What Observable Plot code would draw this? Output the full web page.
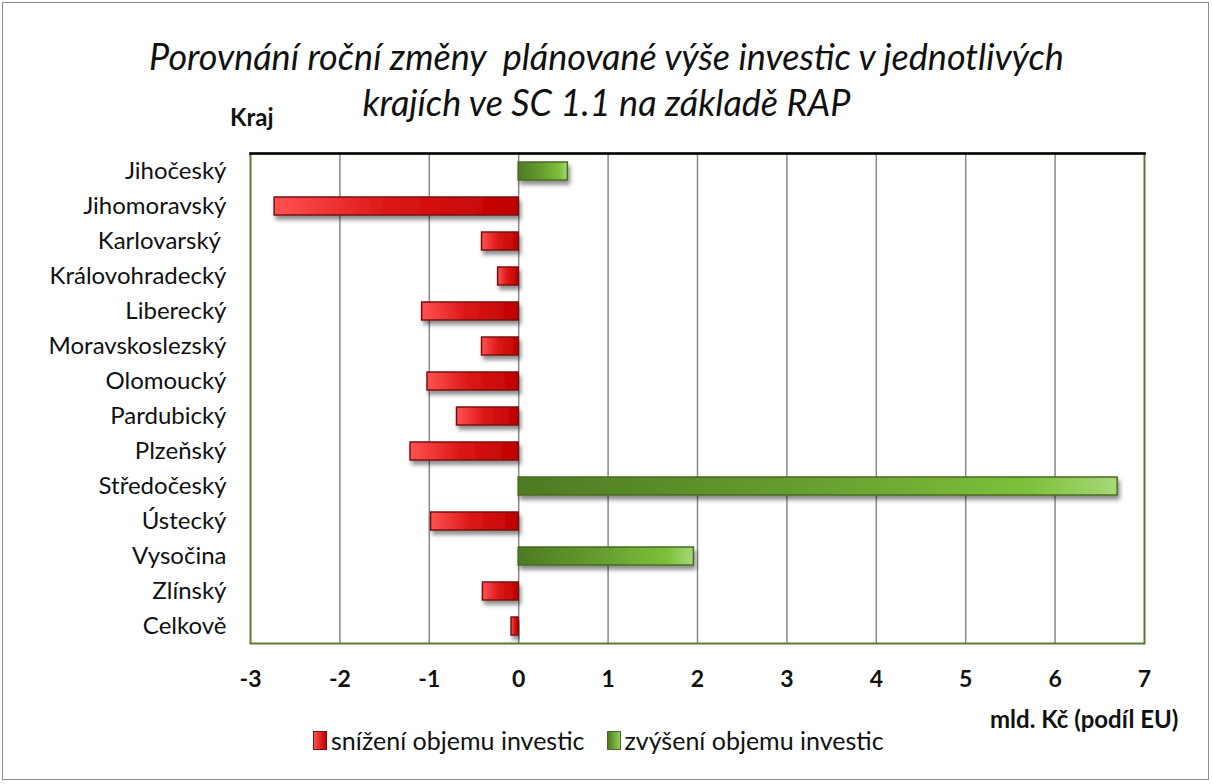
<!DOCTYPE html>
<html>
<head>
<meta charset="utf-8">
<script src="https://cdn.jsdelivr.net/npm/d3@7"></script>
<script src="https://cdn.jsdelivr.net/npm/@observablehq/plot@0.6"></script>
<style>
  html, body { margin: 0; padding: 0; background: #fff; }
  #wrap { position: relative; width: 1213px; height: 784px; overflow: hidden; font-family: Lato, "Open Sans", sans-serif; }
  #border { position: absolute; left: 2px; top: 2px; width: 1207px; height: 778px; border: 1px solid #8c8c8c; box-sizing: border-box; }
  .title { position: absolute; left: 0; width: 1213px; text-align: center; font-style: italic; font-size: 36px; line-height: 43px; color: #111; }
  .lab { position: absolute; font-weight: bold; font-size: 24px; line-height: 29px; color: #111; }
  #legend { position: absolute; top: 725px; left: 313px; font-size: 25px; line-height: 30px; color: #111; display: flex; align-items: center; }
  .sw { display: inline-block; width: 14px; height: 19px; box-sizing: border-box; margin-right: 4px; }
  #chart { position: absolute; left: 0; top: 0; }
  svg g[aria-label="bar"] rect { filter: url(#shadow); }
</style>
</head>
<body>
<div id="wrap">
  <div id="border"></div>
  <div class="title" style="top:35px">Porovnání roční změny&nbsp; plánované výše investic v jednotlivých</div>
  <div class="title" style="top:81px">krajích ve SC 1.1 na základě RAP</div>
  <div class="lab" style="left:230px; top:102px;">Kraj</div>
  <div class="lab" style="left:990px; top:704px;">mld. Kč (podíl EU)</div>
  <div id="legend">
    <span class="sw" style="background:linear-gradient(90deg,#ff5050,#c00000);border:1.5px solid #7a1010"></span><span>snížení objemu investic</span>
    <span class="sw" style="margin-left:22px;background:linear-gradient(90deg,#4e7a23,#8fcf50);border:1.5px solid #4a6a20"></span><span>zvýšení objemu investic</span>
  </div>
  <div id="chart"></div>
</div>
<script>
const regions = ["Jihočeský", "Jihomoravský", "Karlovarský ", "Královohradecký", "Liberecký", "Moravskoslezský", "Olomoucký", "Pardubický", "Plzeňský", "Středočeský", "Ústecký", "Vysočina", "Zlínský", "Celkově"];
const changes = [0.55, -2.73, -0.41, -0.23, -1.08, -0.41, -1.02, -0.69, -1.21, 6.70, -0.98, 1.96, -0.40, -0.08];
const xTicks = [-3, -2, -1, 0, 1, 2, 3, 4, 5, 6, 7];

const data = regions.map((r, i) => ({region: r, value: changes[i]}));
const neg = data.filter(d => d.value < 0);
const pos = data.filter(d => d.value >= 0);

const chart = Plot.plot({
  width: 1213,
  height: 784,
  marginLeft: 250,
  marginRight: 69,
  marginTop: 153,
  marginBottom: 141,
  style: {fontFamily: "Lato, 'Open Sans', sans-serif", background: "transparent", overflow: "visible", color: "#111"},
  x: {domain: [-3, 7], ticks: xTicks, tickSize: 0, tickFormat: d => d, label: null},
  y: {domain: regions, paddingInner: 0.486, paddingOuter: 0.243, align: 0.5, tickSize: 0, label: null},
  marks: [
    Plot.ruleX(xTicks.filter(t => t > -3 && t < 7), {stroke: "#8a8a8a", strokeWidth: 1.5}),
    Plot.frame({stroke: "#5c7a32", strokeWidth: 2}),
    Plot.frame({anchor: "top", stroke: "#000", strokeWidth: 2.5}),
    Plot.barX(neg, {y: "region", x1: 0, x2: "value", fill: "url(#gradRed)", stroke: "#7a1010", strokeWidth: 1.5}),
    Plot.barX(pos, {y: "region", x1: 0, x2: "value", fill: "url(#gradGreen)", stroke: "#4a6a20", strokeWidth: 1.5}),
    Plot.axisX({ticks: xTicks, tickSize: 0, tickPadding: 27, fontSize: 23, fontWeight: "bold", tickFormat: d => d, label: null}),
    Plot.axisY({tickSize: 0, tickPadding: 24, fontSize: 24, label: null})
  ]
});

const svg = d3.select(chart);
const defs = svg.insert("defs", ":first-child");
const gr = defs.append("linearGradient").attr("id", "gradRed").attr("x1", "0").attr("x2", "1").attr("y1", "0").attr("y2", "0");
gr.append("stop").attr("offset", "0").attr("stop-color", "#ff5252");
gr.append("stop").attr("offset", "0.45").attr("stop-color", "#dd1818");
gr.append("stop").attr("offset", "1").attr("stop-color", "#c00000");
const gg = defs.append("linearGradient").attr("id", "gradGreen").attr("x1", "0").attr("x2", "1").attr("y1", "0").attr("y2", "0");
gg.append("stop").attr("offset", "0").attr("stop-color", "#4e7a23");
gg.append("stop").attr("offset", "0.5").attr("stop-color", "#67a030");
gg.append("stop").attr("offset", "0.85").attr("stop-color", "#7dc03a");
gg.append("stop").attr("offset", "1").attr("stop-color", "#a6d878");
const f = defs.append("filter").attr("id", "shadow").attr("x", "-10%").attr("y", "-30%").attr("width", "130%").attr("height", "200%");
f.append("feDropShadow").attr("dx", 2).attr("dy", 4).attr("stdDeviation", 2.2).attr("flood-color", "#000").attr("flood-opacity", 0.45);

document.getElementById("chart").appendChild(chart);
</script>
</body>
</html>
